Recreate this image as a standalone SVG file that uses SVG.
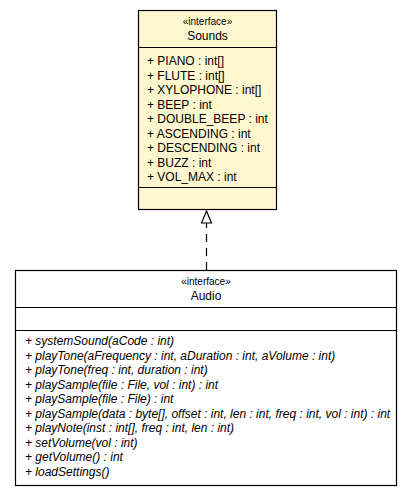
<svg xmlns="http://www.w3.org/2000/svg" width="413" height="495" viewBox="0 0 413 495">
<style>
.box{stroke:#000;stroke-width:1.2}
.t{font-family:"Liberation Sans",Arial,sans-serif;font-size:12px;fill:#000}
.s{font-size:10px}
.c{text-anchor:middle}
.i{font-style:italic}
</style>
<defs>
<marker id="tri" viewBox="0 0 14 12" refX="13" refY="6" markerWidth="14" markerHeight="12" markerUnits="userSpaceOnUse" orient="auto">
<path d="M1,1 L13,6 L1,11 Z" fill="#fff" stroke="#000" stroke-width="1.2"/>
</marker>
</defs>
<rect width="413" height="495" fill="#fff"/>
<g id="connectors">
<line x1="206.5" y1="270" x2="206.5" y2="211" stroke="#000" stroke-width="1.2" stroke-dasharray="8,6" marker-end="url(#tri)"/>
</g>
<g id="Sounds">
<rect class="box" x="138.5" y="10.5" width="138" height="199" fill="#FFF7CF"/>
<line class="box" x1="138.5" y1="47.5" x2="276.5" y2="47.5"/>
<line class="box" x1="138.5" y1="187.5" x2="276.5" y2="187.5"/>
<text class="t s c" x="207.5" y="25">«interface»</text>
<text class="t c" x="207.5" y="40">Sounds</text>
<text class="t" x="147" y="65">+ PIANO : int[]</text>
<text class="t" x="147" y="79.5">+ FLUTE : int[]</text>
<text class="t" x="147" y="94">+ XYLOPHONE : int[]</text>
<text class="t" x="147" y="108.5">+ BEEP : int</text>
<text class="t" x="147" y="123">+ DOUBLE_BEEP : int</text>
<text class="t" x="147" y="137.5">+ ASCENDING : int</text>
<text class="t" x="147" y="152">+ DESCENDING : int</text>
<text class="t" x="147" y="166.5">+ BUZZ : int</text>
<text class="t" x="147" y="181">+ VOL_MAX : int</text>
</g>
<g id="Audio">
<rect class="box" x="15.5" y="270.5" width="381" height="215" fill="#fff"/>
<line class="box" x1="15.5" y1="307.5" x2="396.5" y2="307.5"/>
<line class="box" x1="15.5" y1="330.5" x2="396.5" y2="330.5"/>
<text class="t s c" x="206" y="285">«interface»</text>
<text class="t c" x="206" y="300">Audio</text>
<text class="t i" x="25" y="345">+ systemSound(aCode : int)</text>
<text class="t i" x="25" y="359.5">+ playTone(aFrequency : int, aDuration : int, aVolume : int)</text>
<text class="t i" x="25" y="374">+ playTone(freq : int, duration : int)</text>
<text class="t i" x="25" y="388.5">+ playSample(file : File, vol : int) : int</text>
<text class="t i" x="25" y="403">+ playSample(file : File) : int</text>
<text class="t i" x="25" y="417.5">+ playSample(data : byte[], offset : int, len : int, freq : int, vol : int) : int</text>
<text class="t i" x="25" y="432">+ playNote(inst : int[], freq : int, len : int)</text>
<text class="t i" x="25" y="446.5">+ setVolume(vol : int)</text>
<text class="t i" x="25" y="461">+ getVolume() : int</text>
<text class="t i" x="25" y="475.5">+ loadSettings()</text>
</g>
</svg>
